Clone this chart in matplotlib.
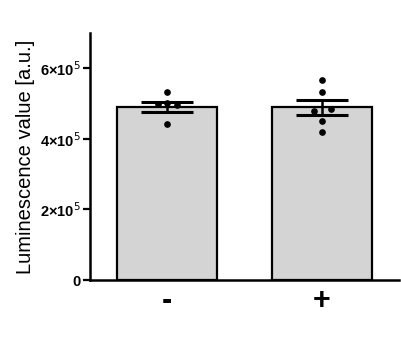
import matplotlib.pyplot as plt
from matplotlib.ticker import FixedLocator

plt.rcParams['font.family'] = ['Liberation Sans', 'DejaVu Sans']

groups = ['-', '+']
means = [4.91e5, 4.89e5]
sems = [1.4e4, 2.1e4]
points = [
    [5.33e5, 5.02e5, 4.98e5, 4.97e5, 4.41e5],
    [5.67e5, 5.33e5, 4.86e5, 4.78e5, 4.52e5, 4.19e5],
]
offsets = [
    [0.0, 0.0, -0.06, 0.06, 0.0],
    [0.0, 0.0, 0.06, -0.05, 0.0, 0.0],
]
yticks = [0, 2e5, 4e5, 6e5]
ylabels = ['0', '2×10$^5$', '4×10$^5$', '6×10$^5$']

fig = plt.figure(figsize=(4.01, 3.55), dpi=100)
ax = fig.add_axes([90 / 401, 75 / 355, 309 / 401, 247 / 355])

x = list(range(len(groups)))
ax.bar(x, means, width=0.65, color='#d4d4d4', edgecolor='black', linewidth=1.6, zorder=1)
ax.errorbar(x, means, yerr=sems, fmt='none', ecolor='black', elinewidth=1.8,
            capsize=18.5, capthick=2.2, zorder=3)
for i, vals in enumerate(points):
    xs = [i + o for o in offsets[i]]
    ax.plot(xs, vals, linestyle='', marker='o', color='black', markersize=3.8, zorder=4)

ax.set_xlim(-0.5, 1.5)
ax.set_ylim(0, 7e5)
ax.yaxis.set_major_locator(FixedLocator(yticks))
ax.set_yticklabels(ylabels, fontsize=10.5, fontweight='bold')
ax.set_xticks(x)
ax.set_xticklabels(groups, fontsize=22, fontweight='bold')
ax.tick_params(axis='x', length=0, pad=4)
ax.tick_params(axis='y', length=5, width=1.6, pad=2)
ax.spines['top'].set_visible(False)
ax.spines['right'].set_visible(False)
ax.spines['left'].set_linewidth(1.8)
ax.spines['bottom'].set_linewidth(1.8)
ax.set_ylabel('Luminescence value [a.u.]', fontsize=14.5, labelpad=3)

fig.savefig('out.png', dpi=100)
